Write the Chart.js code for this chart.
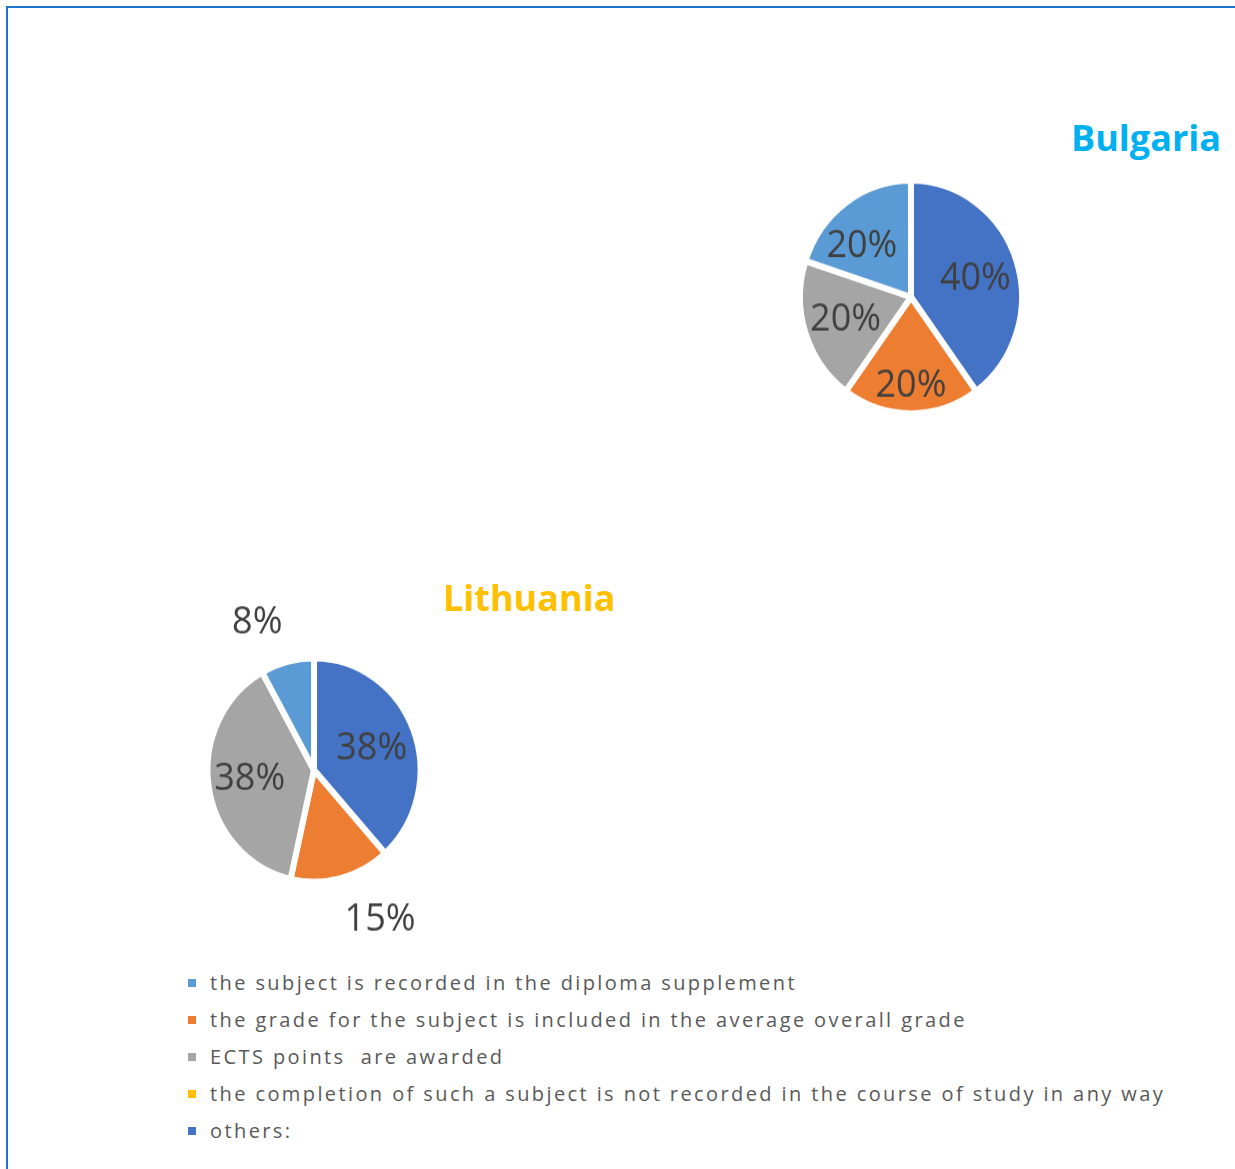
<!DOCTYPE html>
<html>
<head>
<meta charset="utf-8">
<script src="https://cdn.jsdelivr.net/npm/chart.js@4.4.0/dist/chart.umd.min.js"></script>
<style>
  body { margin: 0; background: #fff; width: 1235px; height: 1169px; overflow: hidden; position: relative; font-family: "Open Sans", sans-serif; }
  #frame { position: absolute; left: 6px; top: 6px; width: 1300px; height: 1300px; border-top: 2px solid #1b75cc; border-left: 2px solid #1b75cc; }
  .title { position: absolute; font-weight: bold; font-size: 36px; line-height: 1; }
  .pie { position: absolute; transform: scale(1, 1.05); transform-origin: 50% 50%; }
  #legend { position: absolute; left: 188px; top: 971px; }
  .item { height: 37px; line-height: 24px; font-size: 20px; color: #595959; letter-spacing: 2.4px; white-space: pre; }
  .item span.box { display: inline-block; width: 8px; height: 8px; margin-right: 14px; vertical-align: 3px; }
</style>
</head>
<body>
<div id="frame"></div>
<div class="title" style="left:1071px; top:120px; color:#00b0f0;">Bulgaria</div>
<div class="title" style="left:443px; top:580px; color:#ffc000;">Lithuania</div>
<div class="pie" style="left:761px; top:147px; width:300px; height:300px;"><canvas id="bulgaria" width="300" height="300"></canvas></div>
<div class="pie" style="left:134px; top:590px; width:360px; height:360px;"><canvas id="lithuania" width="360" height="360"></canvas></div>
<div id="legend"></div>
<script>
// categories (legend order)
const categories = [
  'the subject is recorded in the diploma supplement',
  'the grade for the subject is included in the average overall grade',
  'ECTS points  are awarded',
  'the completion of such a subject is not recorded in the course of study in any way',
  'others:'
];
const colors = ['#5b9bd5', '#ed7d31', '#a5a5a5', '#ffc000', '#4472c4'];

// percentages per category, same order as categories
const bulgariaValues = [20, 20, 20, 0, 40];
const lithuaniaValues = [8, 15, 38, 0, 38];

// slices are drawn clockwise from the top in this order
const sliceOrder = [4, 1, 2, 0];

// label placement: fraction of radius along the slice middle + small pixel nudge
const bulgariaLabelDist = [0.6, 0.74, 0.62, 0.63];
const bulgariaLabelNudge = [[1, 3], [0, 3], [0, 0], [-8, 8]];
const lithuaniaLabelDist = [0.58, 1.46, 0.61, 1.45];
const lithuaniaLabelNudge = [[0, 2], [27, -8], [0, 0], [-18, 9]];

// draws the percent text on each slice
const pieLabels = {
  id: 'pieLabels',
  afterDatasetsDraw(chart, args, opts) {
    const ctx = chart.ctx;
    const meta = chart.getDatasetMeta(0);
    const data = chart.data.datasets[0].data;
    ctx.save();
    ctx.font = '36px "Open Sans"';
    ctx.fillStyle = '#404040';
    ctx.textAlign = 'center';
    ctx.textBaseline = 'middle';
    meta.data.forEach((arc, i) => {
      const p = arc.getProps(['x', 'y', 'startAngle', 'endAngle', 'outerRadius'], true);
      const mid = (p.startAngle + p.endAngle) / 2;
      const f = opts.dist[i];
      const n = opts.nudge[i];
      ctx.fillText(data[i] + '%', p.x + Math.cos(mid) * p.outerRadius * f + n[0], p.y + Math.sin(mid) * p.outerRadius * f + n[1]);
    });
    ctx.restore();
  }
};

function makePie(id, values, radius, dist, nudge) {
  new Chart(document.getElementById(id), {
    type: 'pie',
    data: {
      labels: sliceOrder.map((i) => categories[i]),
      datasets: [{
        data: sliceOrder.map((i) => values[i]),
        backgroundColor: sliceOrder.map((i) => colors[i]),
        borderColor: '#ffffff',
        borderWidth: 6
      }]
    },
    options: {
      responsive: false,
      animation: false,
      radius: radius,
      layout: { padding: 0 },
      plugins: {
        legend: { display: false },
        tooltip: { enabled: false },
        pieLabels: { dist: dist, nudge: nudge }
      }
    },
    plugins: [pieLabels]
  });
}

makePie('bulgaria', bulgariaValues, 111, bulgariaLabelDist, bulgariaLabelNudge);
makePie('lithuania', lithuaniaValues, 106.5, lithuaniaLabelDist, lithuaniaLabelNudge);

// shared legend under the charts
const legend = document.getElementById('legend');
categories.forEach((c, i) => {
  const row = document.createElement('div');
  row.className = 'item';
  const box = document.createElement('span');
  box.className = 'box';
  box.style.background = colors[i];
  row.appendChild(box);
  row.appendChild(document.createTextNode(c));
  legend.appendChild(row);
});
</script>
</body>
</html>
